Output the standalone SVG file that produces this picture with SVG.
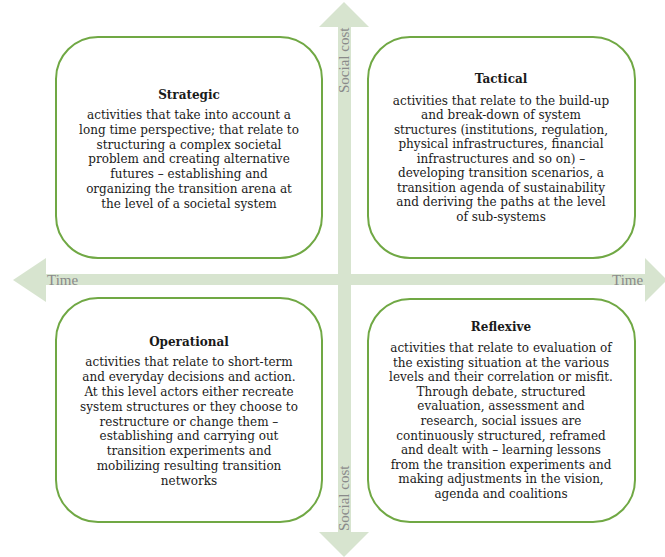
<svg xmlns="http://www.w3.org/2000/svg" width="665" height="557" viewBox="0 0 665 557">
<style>
.box{fill:#fff;stroke:#70a844;stroke-width:2}
.arr{fill:#d7e4cf}
.lbl{font-family:"Liberation Serif",serif;font-size:15px;fill:#8a8a8a}
.t{font-family:"DejaVu Serif",serif;font-size:12px;fill:#1a1a1a;text-anchor:middle}
.h{font-weight:bold;font-size:12px}
</style>
<rect width="665" height="557" fill="#fff"/>
<g id="connectors">
<polygon class="arr" points="338,27 319,27 344,2 369,27 351,27 351,532 369,532 344,557 319,532 338,532"/>
<polygon class="arr" points="46,274 46,258 13,280 46,302 46,285 645,285 645,302 667,280 645,258 645,274"/>
<text class="lbl" transform="translate(349,93) rotate(-90)">Social cost</text>
<text class="lbl" transform="translate(349,531) rotate(-90)">Social cost</text>
<text class="lbl" x="47" y="285">Time</text>
<text class="lbl" x="612" y="285">Time</text>
</g>
<g id="strategic">
<rect class="box" x="56" y="37" width="266" height="221" rx="42"/>
<text class="t h" x="189" y="99">Strategic</text>
<text class="t" x="189" y="119">activities that take into account a</text>
<text class="t" x="189" y="134">long time perspective; that relate to</text>
<text class="t" x="189" y="149">structuring a complex societal</text>
<text class="t" x="189" y="163">problem and creating alternative</text>
<text class="t" x="189" y="178">futures – establishing and</text>
<text class="t" x="189" y="193">organizing the transition arena at</text>
<text class="t" x="189" y="208">the level of a societal system</text>
</g>
<g id="tactical">
<rect class="box" x="368" y="37" width="267" height="221" rx="42"/>
<text class="t h" x="501" y="83">Tactical</text>
<text class="t" x="501" y="105">activities that relate to the build-up</text>
<text class="t" x="501" y="119">and break-down of system</text>
<text class="t" x="501" y="134">structures (institutions, regulation,</text>
<text class="t" x="501" y="148">physical infrastructures, financial</text>
<text class="t" x="501" y="163">infrastructures and so on) –</text>
<text class="t" x="501" y="177">developing transition scenarios, a</text>
<text class="t" x="501" y="192">transition agenda of sustainability</text>
<text class="t" x="501" y="206">and deriving the paths at the level</text>
<text class="t" x="501" y="221">of sub-systems</text>
</g>
<g id="operational">
<rect class="box" x="56" y="298" width="266" height="224" rx="42"/>
<text class="t h" x="189" y="346">Operational</text>
<text class="t" x="189" y="366">activities that relate to short-term</text>
<text class="t" x="189" y="381">and everyday decisions and action.</text>
<text class="t" x="189" y="396">At this level actors either recreate</text>
<text class="t" x="189" y="411">system structures or they choose to</text>
<text class="t" x="189" y="426">restructure or change them –</text>
<text class="t" x="189" y="440">establishing and carrying out</text>
<text class="t" x="189" y="455">transition experiments and</text>
<text class="t" x="189" y="470">mobilizing resulting transition</text>
<text class="t" x="189" y="485">networks</text>
</g>
<g id="reflexive">
<rect class="box" x="368" y="299" width="267" height="223" rx="42"/>
<text class="t h" x="501" y="331">Reflexive</text>
<text class="t" x="501" y="352">activities that relate to evaluation of</text>
<text class="t" x="501" y="367">the existing situation at the various</text>
<text class="t" x="501" y="381">levels and their correlation or misfit.</text>
<text class="t" x="501" y="396">Through debate, structured</text>
<text class="t" x="501" y="410">evaluation, assessment and</text>
<text class="t" x="501" y="425">research, social issues are</text>
<text class="t" x="501" y="440">continuously structured, reframed</text>
<text class="t" x="501" y="454">and dealt with – learning lessons</text>
<text class="t" x="501" y="469">from the transition experiments and</text>
<text class="t" x="501" y="483">making adjustments in the vision,</text>
<text class="t" x="501" y="498">agenda and coalitions</text>
</g>
</svg>
